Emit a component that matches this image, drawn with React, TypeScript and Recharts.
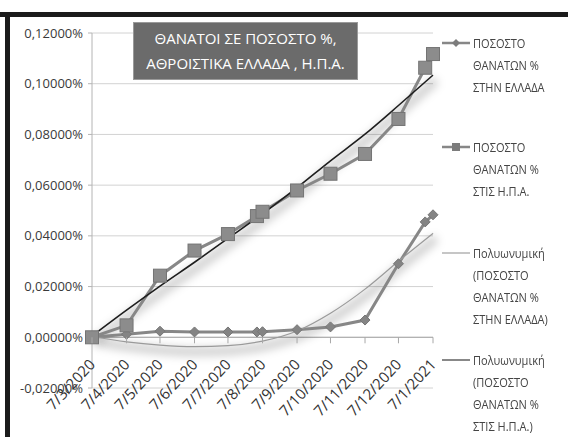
import { LineChart, Line, XAxis, YAxis, CartesianGrid, ReferenceLine } from "recharts";

// sample dates (d/m/yyyy) and cumulative death rates in %
const dates = [
  "7/3/2020", "7/4/2020", "7/5/2020", "7/6/2020", "7/7/2020", "2/8/2020", "7/8/2020",
  "7/9/2020", "7/10/2020", "7/11/2020", "7/12/2020", "31/12/2020", "7/1/2021",
];
const greece = [0, 0.0012, 0.0024, 0.0021, 0.0021, 0.0021, 0.0022, 0.003, 0.0041, 0.0068, 0.029, 0.0455, 0.0483];
const usa = [0, 0.0047, 0.0243, 0.0342, 0.0407, 0.0478, 0.0495, 0.0579, 0.0645, 0.0723, 0.0861, 0.1063, 0.1117];

// polynomial trend lines at each month tick
const tickDates = [
  "7/3/2020", "7/4/2020", "7/5/2020", "7/6/2020", "7/7/2020", "7/8/2020",
  "7/9/2020", "7/10/2020", "7/11/2020", "7/12/2020", "7/1/2021",
];
const greeceTrend = [0.0003, -0.0018, -0.0031, -0.0037, -0.0033, -0.0015, 0.0025, 0.0095, 0.019, 0.03, 0.041];
const usaTrend = [0.0005, 0.0107, 0.0202, 0.0296, 0.039, 0.0487, 0.059, 0.0696, 0.0801, 0.0914, 0.1034];

const yTicks = [-0.02, 0, 0.02, 0.04, 0.06, 0.08, 0.1, 0.12];

const legendItems = [
  { lines: ["ΠΟΣΟΣΤΟ", "ΘΑΝΑΤΩΝ %", "ΣΤΗΝ ΕΛΛΑΔΑ"], icon: "diamond", top: 43 },
  { lines: ["ΠΟΣΟΣΤΟ", "ΘΑΝΑΤΩΝ %", "ΣΤΙΣ Η.Π.Α."], icon: "square", top: 147 },
  { lines: ["Πολυωνυμική", "(ΠΟΣΟΣΤΟ", "ΘΑΝΑΤΩΝ %", "ΣΤΗΝ ΕΛΛΑΔΑ)"], icon: "thin", top: 253 },
  { lines: ["Πολυωνυμική", "(ΠΟΣΟΣΤΟ", "ΘΑΝΑΤΩΝ %", "ΣΤΙΣ Η.Π.Α.)"], icon: "dark", top: 360 },
];

const dayOf = (s: string) => {
  const [d, m, y] = s.split("/").map(Number);
  return Date.UTC(y, m - 1, d) / 86400000;
};
const t0 = dayOf(dates[0]);
const points = dates.map((d, i) => ({ t: dayOf(d) - t0, greece: greece[i], usa: usa[i] }));
const trend = tickDates.map((d, i) => ({
  t: dayOf(d) - t0,
  greeceTrend: greeceTrend[i],
  usaTrend: usaTrend[i],
}));
const xTicks = tickDates.map((d) => dayOf(d) - t0);

const W = 568;
const H = 437;
const PLOT_TOP = 33;
const X_AXIS_H = 49;
const PLOT_H = H - PLOT_TOP - X_AXIS_H;
// x labels hang from the zero line, not from the plot bottom
const ZERO_SHIFT = (PLOT_H * 0.02) / 0.14;

const FONT = "'Open Sans', 'Noto Sans', sans-serif";
const GREY = "#878787";

const fmtPct = (v: number) => v.toFixed(5).replace(".", ",") + "%";

const DateTick = (props: any) => {
  const { x, y, payload } = props;
  const i = xTicks.indexOf(payload.value);
  const y0 = y - ZERO_SHIFT;
  const ax = x + 4;
  const ay = y0 + 28;
  return (
    <g>
      <line x1={x} y1={y0} x2={x} y2={y0 + 6} stroke="#a8a8a8" />
      <text
        x={ax}
        y={ay}
        textAnchor="end"
        fontSize={15}
        fontFamily={FONT}
        fill="#333"
        transform={`rotate(-47 ${ax} ${ay})`}
      >
        {tickDates[i]}
      </text>
    </g>
  );
};

const DiamondDot = (props: any) => {
  const { cx, cy, index } = props;
  if (cx == null || cy == null) return null;
  return (
    <path
      key={`gr-${index}`}
      d={`M${cx} ${cy - 5}L${cx + 5} ${cy}L${cx} ${cy + 5}L${cx - 5} ${cy}Z`}
      fill="#848484"
      stroke="#767676"
    />
  );
};

const SquareDot = (props: any) => {
  const { cx, cy, index } = props;
  if (cx == null || cy == null) return null;
  return (
    <rect key={`us-${index}`} x={cx - 6.5} y={cy - 6.5} width={13} height={13} fill="#8c8c8c" stroke="#747474" />
  );
};

const LegendIcon = ({ kind }: { kind: string }) => (
  <svg width={32} height={12} style={{ position: "absolute", left: 0, top: -6 }}>
    {kind === "thin" ? (
      <line x1={2} y1={6} x2={30} y2={6} stroke="#a0a0a0" strokeWidth={1.2} />
    ) : kind === "dark" ? (
      <line x1={2} y1={6} x2={30} y2={6} stroke="#555" strokeWidth={1.4} />
    ) : (
      <line x1={2} y1={6} x2={30} y2={6} stroke={GREY} strokeWidth={2.5} />
    )}
    {kind === "diamond" && <path d="M16 2L20 6L16 10L12 6Z" fill="#7c7c7c" />}
    {kind === "square" && <rect x={12} y={2} width={8} height={8} fill="#7c7c7c" />}
  </svg>
);

export default function App() {
  return (
    <div style={{ position: "absolute", left: 0, top: 0, width: W, height: H, background: "#fff", overflow: "hidden" }}>
      <LineChart width={W} height={H} margin={{ top: PLOT_TOP, right: 135, bottom: 0, left: 8 }}>
        <defs>
          <filter id="soft" x="-20%" y="-20%" width="140%" height="140%">
            <feGaussianBlur stdDeviation="4" />
            <feOffset dx="3" dy="5" />
          </filter>
        </defs>
        <CartesianGrid vertical={false} stroke="#d2d2d2" />
        <XAxis
          type="number"
          dataKey="t"
          domain={[0, xTicks[xTicks.length - 1]]}
          ticks={xTicks}
          interval={0}
          height={X_AXIS_H}
          axisLine={false}
          tickLine={false}
          tickSize={0}
          tickMargin={0}
          tick={<DateTick />}
        />
        <YAxis
          type="number"
          domain={[-0.02, 0.12]}
          ticks={yTicks}
          interval={0}
          width={84}
          tickFormatter={fmtPct}
          tickSize={4}
          tickMargin={5}
          axisLine={{ stroke: "#b4b4b4" }}
          tickLine={{ stroke: "#b4b4b4" }}
          tick={{ fontSize: 13, fontFamily: FONT, fill: "#3a3a3a" }}
        />
        <ReferenceLine y={0} stroke="#a8a8a8" />
        <Line
          data={trend}
          dataKey="greeceTrend"
          type="monotone"
          stroke="#000"
          strokeOpacity={0.18}
          strokeWidth={9}
          filter="url(#soft)"
          dot={false}
          activeDot={false}
          isAnimationActive={false}
        />
        <Line
          data={trend}
          dataKey="usaTrend"
          type="monotone"
          stroke="#000"
          strokeOpacity={0.18}
          strokeWidth={9}
          filter="url(#soft)"
          dot={false}
          activeDot={false}
          isAnimationActive={false}
        />
        <Line
          data={points}
          dataKey="greece"
          type="linear"
          stroke={GREY}
          strokeWidth={3}
          dot={<DiamondDot />}
          activeDot={false}
          isAnimationActive={false}
        />
        <Line
          data={points}
          dataKey="usa"
          type="linear"
          stroke={GREY}
          strokeWidth={3}
          dot={<SquareDot />}
          activeDot={false}
          isAnimationActive={false}
        />
        <Line
          data={trend}
          dataKey="greeceTrend"
          type="monotone"
          stroke="#9a9a9a"
          strokeWidth={1.2}
          dot={false}
          activeDot={false}
          isAnimationActive={false}
        />
        <Line
          data={trend}
          dataKey="usaTrend"
          type="monotone"
          stroke="#1e1e1e"
          strokeWidth={1.6}
          dot={false}
          activeDot={false}
          isAnimationActive={false}
        />
      </LineChart>

      {/* black frame */}
      <div style={{ position: "absolute", left: 0, top: 12, width: W, height: 5, background: "#1b1b1b" }} />
      <div style={{ position: "absolute", left: 5, top: 12, width: 5, height: H - 12, background: "#1b1b1b" }} />

      {/* title box */}
      <div
        style={{
          position: "absolute",
          left: 133,
          top: 22,
          width: 225,
          height: 58,
          boxSizing: "border-box",
          background: "#6b6b6b",
          border: "1px solid #9a9a9a",
          color: "#fff",
          fontFamily: FONT,
          fontSize: 15,
          lineHeight: "25px",
          textAlign: "center",
          paddingTop: 3,
        }}
      >
        <div>ΘΑΝΑΤΟΙ ΣΕ ΠΟΣΟΣΤΟ %,</div>
        <div>ΑΘΡΟΙΣΤΙΚΑ ΕΛΛΑΔΑ , Η.Π.Α.</div>
      </div>

      {/* legend */}
      {legendItems.map((item) => (
        <div key={item.top} style={{ position: "absolute", left: 440, top: item.top, width: 128 }}>
          <LegendIcon kind={item.icon} />
          {item.lines.map((ln, j) => (
            <div
              key={j}
              style={{
                position: "absolute",
                left: 33,
                top: j * 22 - 11,
                height: 22,
                lineHeight: "22px",
                whiteSpace: "nowrap",
                fontFamily: FONT,
                fontSize: 13,
                color: "#444",
                transform: "scaleX(0.85)",
                transformOrigin: "left center",
              }}
            >
              {ln}
            </div>
          ))}
        </div>
      ))}
    </div>
  );
}
